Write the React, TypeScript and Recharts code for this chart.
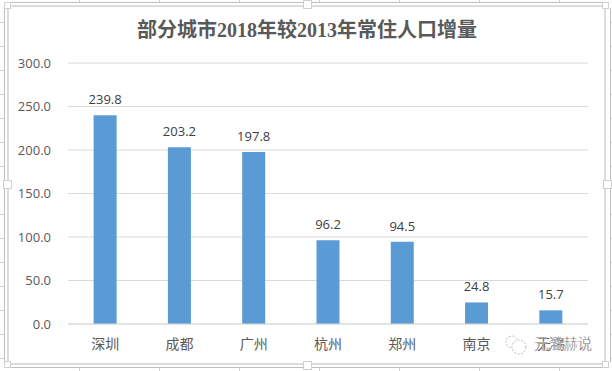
import { BarChart, Bar, XAxis, YAxis, CartesianGrid, LabelList } from "recharts";

const cities = ["深圳", "成都", "广州", "杭州", "郑州", "南京", "无锡"];
const increases = [239.8, 203.2, 197.8, 96.2, 94.5, 24.8, 15.7];
const yTicks = [0, 50, 100, 150, 200, 250, 300];

// spreadsheet cell lines showing round the chart
const sheetColumns = [79, 159, 239, 319, 399, 479, 559];
const sheetRows = [22, 46, 70, 94, 118, 142, 166, 214, 238, 262, 286, 310, 334, 358];
// selection handles on the chart frame
const handles = [
    [4, 2, 7], [303, 0, 9], [602, 2, 7],
    [3, 180, 9], [603, 180, 9],
    [4, 361, 7], [303, 361, 9], [602, 361, 7],
];

const data = cities.map((city, i) => ({ city, value: increases[i] }));

const cjkFont = "'Noto Sans CJK SC', sans-serif";
const numFont = "'Open Sans', sans-serif";
const sheetLine = "#bfbfbf";
const frameLine = "#dcdcdc";

function Rule({ x, y, w, h, color }: { x: number; y: number; w: number; h: number; color: string }) {
    return <div style={{ position: "absolute", left: x, top: y, width: w, height: h, background: color }} />;
}

function SheetBackdrop() {
    return (
        <>
            <Rule x={10} y={2} w={593} h={1} color={sheetLine} />
            <Rule x={10} y={367} w={593} h={1} color={sheetLine} />
            <Rule x={4} y={8} w={1} h={354} color={sheetLine} />
            <Rule x={610} y={8} w={1} h={354} color={sheetLine} />
            {sheetColumns.map((x) => (
                <div key={x}>
                    <Rule x={x} y={0} w={1} h={2} color="#d0d0d0" />
                    <Rule x={x} y={368} w={1} h={3} color="#d0d0d0" />
                </div>
            ))}
            {sheetRows.map((y) => (
                <div key={y}>
                    <Rule x={0} y={y} w={4} h={1} color="#d0d0d0" />
                    <Rule x={611} y={y} w={1} h={1} color="#d0d0d0" />
                </div>
            ))}
            <Rule x={7} y={5} w={598} h={2} color={frameLine} />
            <Rule x={7} y={363} w={598} h={2} color={frameLine} />
            <Rule x={7} y={5} w={2} h={360} color={frameLine} />
            <Rule x={604} y={5} w={2} h={360} color={frameLine} />
            {handles.map(([x, y, size]) => (
                <div key={`${x}-${y}`} style={{ position: "absolute", left: x, top: y, width: size, height: size, background: "#fff", border: "1px solid #d0d0d0", boxSizing: "border-box" }} />
            ))}
        </>
    );
}

export default function App() {
    return (
        <div style={{ position: "absolute", left: 0, top: 0, width: 612, height: 371, background: "#fff", overflow: "hidden" }}>
            <SheetBackdrop />
            <div style={{ position: "absolute", left: 0, top: 17, width: 614, textAlign: "center", fontFamily: "'Liberation Serif', 'Noto Sans CJK SC', serif", fontWeight: 700, fontSize: 20, lineHeight: "26px", color: "#595959" }}>
                部分城市2018年较2013年常住人口增量
            </div>
            <BarChart width={612} height={371} data={data} margin={{ top: 63, right: 24, bottom: 0, left: 0 }} barCategoryGap="34.5%" style={{ position: "absolute", left: 0, top: 0 }}>
                <CartesianGrid vertical={false} stroke="#d9d9d9" />
                <XAxis dataKey="city" height={47} tickLine={false} axisLine={{ stroke: "#d9d9d9" }} tickMargin={9} tick={{ fill: "#595959", fontSize: 14, fontFamily: cjkFont }} interval={0} />
                <YAxis width={68} domain={[0, 300]} ticks={yTicks} tickLine={false} axisLine={false} tickMargin={11} tickFormatter={(v: number) => v.toFixed(1)} tick={{ fill: "#595959", fontSize: 13, fontFamily: numFont }} />
                <Bar dataKey="value" fill="#5b9bd5" isAnimationActive={false}>
                    <LabelList dataKey="value" position="top" offset={11} formatter={(v: number) => v.toFixed(1)} fill="#404040" fontSize={13} fontFamily={numFont} />
                </Bar>
            </BarChart>
            {/* WeChat watermark sitting over the last category */}
            <svg width={612} height={371} style={{ position: "absolute", left: 0, top: 0 }}>
                <g fill="#fff" stroke="#bdbdbd" strokeWidth={1} strokeDasharray="2 1.5">
                    <circle cx={512} cy={342} r={6} />
                    <circle cx={519} cy={347} r={7} />
                </g>
                <text x={534} y={349} fontSize={14.5} fontFamily={cjkFont} fill="#4a4a4a" stroke="#fff" strokeWidth={0.4}>元澄赫说</text>
            </svg>
        </div>
    );
}
